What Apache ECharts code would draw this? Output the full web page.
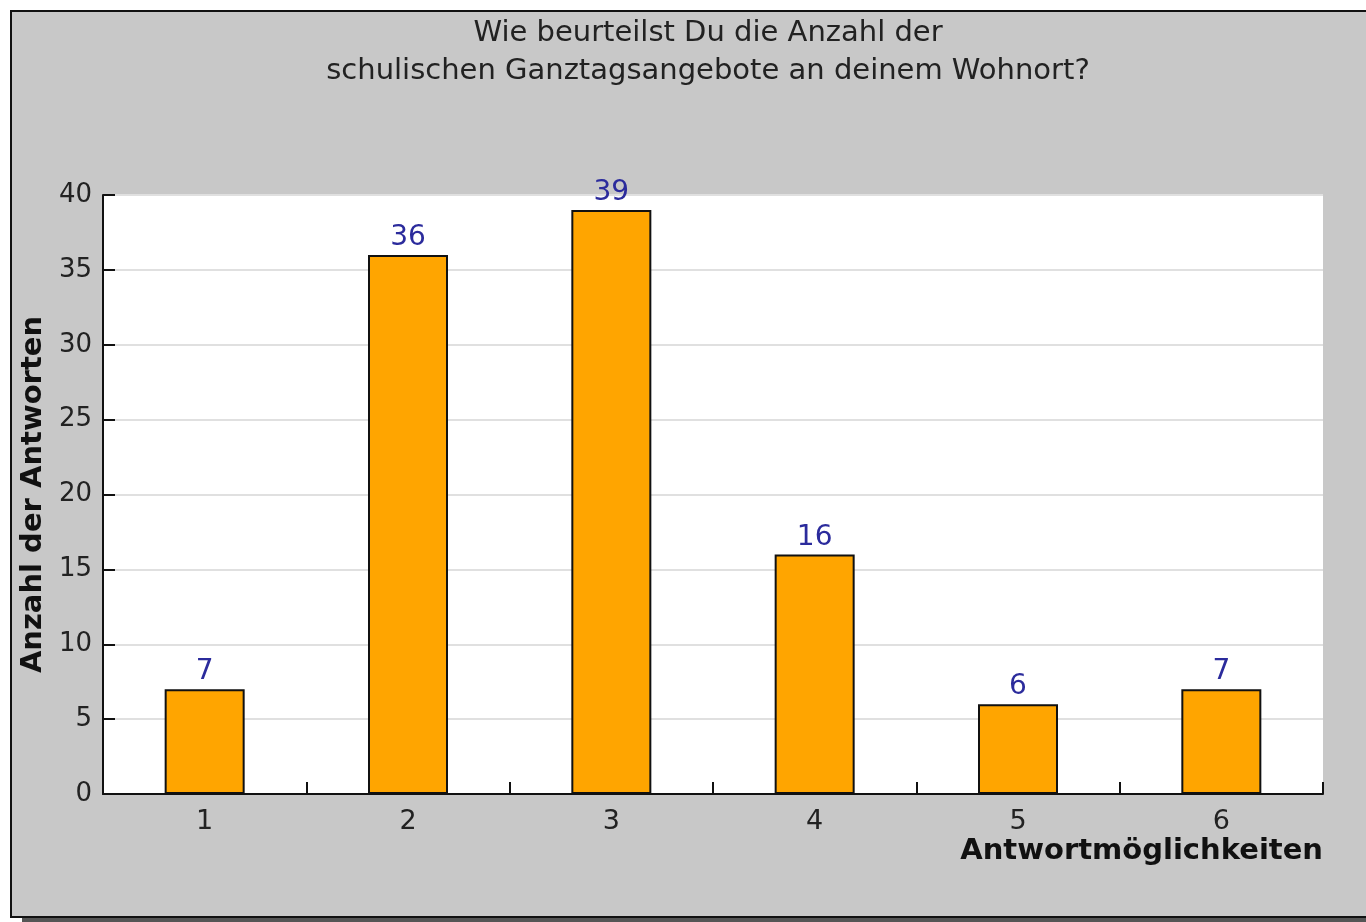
<!DOCTYPE html>
<html>
<head>
<meta charset="utf-8">
<title>Ganztagsangebote</title>
<script src="https://cdn.jsdelivr.net/npm/echarts@6/dist/echarts.min.js"></script>
<style>
  html, body { margin: 0; padding: 0; background: #fff; }
  #chart { width: 1366px; height: 922px; }
</style>
</head>
<body>
<div id="chart"></div>
<script>
const titleText = "Wie beurteilst Du die Anzahl der\nschulischen Ganztagsangebote an deinem Wohnort?";
const categories = ["1", "2", "3", "4", "5", "6"];
const answerCounts = [7, 36, 39, 16, 6, 7];
const yMax = 40;
const yStep = 5;

const font = "DejaVu Sans";
const chart = echarts.init(document.getElementById("chart"), null, { renderer: "canvas" });

chart.setOption({
  animation: false,
  textStyle: { fontFamily: font },
  graphic: [
    // drop shadow under the frame
    { type: "rect", z: -10, shape: { x: 22, y: 917, width: 1400, height: 5 }, style: { fill: "#555" }, silent: true },
    { type: "rect", z: -9, shape: { x: 11, y: 11, width: 1400, height: 906 },
      style: { fill: "#c8c8c8", stroke: "#111", lineWidth: 2 }, silent: true }
  ],
  title: {
    text: titleText,
    left: 703,
    textAlign: "center",
    top: 9,
    textStyle: { fontFamily: font, fontSize: 29, fontWeight: "normal", color: "#222", lineHeight: 38 }
  },
  grid: {
    left: 103,
    right: 43,
    top: 195,
    bottom: 128,
    outerBoundsMode: "none",
    containLabel: false,
    show: true,
    backgroundColor: "#fff",
    borderWidth: 0
  },
  xAxis: {
    type: "category",
    data: categories,
    name: "Antwortmöglichkeiten",
    nameLocation: "end",
    nameGap: 0,
    nameMoveOverlap: false,
    nameTextStyle: {
      fontFamily: font, fontSize: 29, fontWeight: "bold", color: "#111",
      align: "right", verticalAlign: "top", padding: [43, 0, 0, 0]
    },
    axisLine: { lineStyle: { color: "#111", width: 2 } },
    axisTick: { show: true, inside: true, length: 12, lineStyle: { color: "#111", width: 2 } },
    axisLabel: { color: "#222", fontSize: 27, margin: 14 }
  },
  yAxis: {
    type: "value",
    min: 0,
    max: yMax,
    interval: yStep,
    name: "Anzahl der Antworten",
    nameLocation: "middle",
    nameGap: 50,
    nameTextStyle: { fontFamily: font, fontSize: 29, fontWeight: "bold", color: "#111" },
    axisLine: { show: true, lineStyle: { color: "#111", width: 2 } },
    axisTick: { show: true, inside: true, length: 12, lineStyle: { color: "#111", width: 2 } },
    axisLabel: { color: "#222", fontSize: 26, margin: 11 },
    splitLine: { lineStyle: { color: "#e0e0e0", width: 2 } }
  },
  series: [
    {
      type: "bar",
      data: answerCounts,
      barWidth: 80,
      itemStyle: { color: "#ffa500", borderColor: "#111", borderWidth: 2 },
      label: {
        show: true,
        position: "top",
        distance: 3,
        color: "#2b2b9c",
        fontSize: 28,
        fontFamily: font
      }
    }
  ]
});
</script>
</body>
</html>
